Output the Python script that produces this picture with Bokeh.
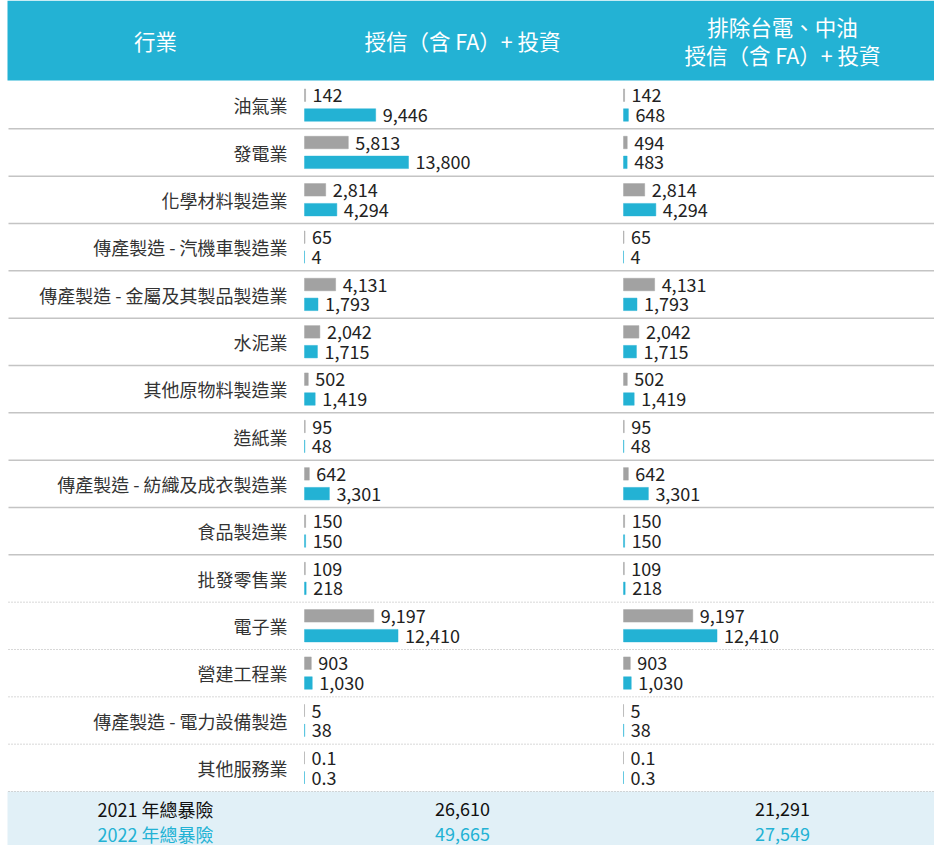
from bokeh.plotting import figure
from bokeh.models import Range1d, ColumnDataSource
from bokeh.core.properties import value
from bokeh.embed import file_html
from bokeh.resources import INLINE

# ---------------- data ----------------
categories = [
    "油氣業", "發電業", "化學材料製造業", "傳產製造 - 汽機車製造業",
    "傳產製造 - 金屬及其製品製造業", "水泥業", "其他原物料製造業", "造紙業",
    "傳產製造 - 紡織及成衣製造業", "食品製造業", "批發零售業", "電子業",
    "營建工程業", "傳產製造 - 電力設備製造", "其他服務業",
]
all_2021 = [142, 5813, 2814, 65, 4131, 2042, 502, 95, 642, 150, 109, 9197, 903, 5, 0.1]
all_2022 = [9446, 13800, 4294, 4, 1793, 1715, 1419, 48, 3301, 150, 218, 12410, 1030, 38, 0.3]
excl_2021 = [142, 494, 2814, 65, 4131, 2042, 502, 95, 642, 150, 109, 9197, 903, 5, 0.1]
excl_2022 = [648, 483, 4294, 4, 1793, 1715, 1419, 48, 3301, 150, 218, 12410, 1030, 38, 0.3]
total_labels = ["2021 年總暴險", "2022 年總暴險"]
totals_all = [26610, 49665]
totals_excl = [21291, 27549]
header_industry = "行業"
header_all = "授信（含 FA）+ 投資"
header_excl = ["排除台電、中油", "授信（含 FA）+ 投資"]

# ---------------- style / layout ----------------
W, H = 934, 845
FONT = value("Noto Sans CJK TC")
BLUE = "#23B2D4"
GRAY = "#A2A2A2"
FOOT_BG = "#E1F0F7"
TEXT = "#333333"
HEADER_BOTTOM = 80
ROW_TOP = 81
FOOT_TOP = 791
N = len(categories)
ROW_H = (FOOT_TOP - ROW_TOP) / N
COL_LABEL_RIGHT = 287
COL_IND_C = 155
COL2_C = 462
COL3_C = 782
COL2_X0 = 304
COL3_X0 = 623
PX_PER_UNIT = 104 / 13800.0
BAR_H = 12.5
OFF_2021 = 13.7
OFF_2022 = 33.5


def fmt(v):
    return f"{v:,.0f}" if v >= 1 else f"{v:g}"


p = figure(width=W, height=H, x_range=Range1d(0, W), y_range=Range1d(H, 0),
           output_backend="svg", toolbar_location=None, min_border=0,
           x_axis_location=None, y_axis_location=None)
p.grid.visible = False
p.outline_line_color = None
p.background_fill_color = "white"
p.border_fill_color = "white"

p.extra_x_ranges = {
    "c2": Range1d(-COL2_X0 / PX_PER_UNIT, (W - COL2_X0) / PX_PER_UNIT),
    "c3": Range1d(-COL3_X0 / PX_PER_UNIT, (W - COL3_X0) / PX_PER_UNIT),
}

# header band
p.quad(left=[7], right=[W], top=[0], bottom=[HEADER_BOTTOM], fill_color=BLUE, line_color=None)
# footer band
p.quad(left=[7], right=[W], top=[FOOT_TOP], bottom=[H], fill_color=FOOT_BG, line_color=None)

# header texts
p.text(x=[COL_IND_C, COL2_C], y=[40, 40], text=[header_industry, header_all],
       text_align="center", text_baseline="middle", text_font=FONT,
       text_font_size="21.5px", text_color="white")
p.text(x=[COL3_C, COL3_C], y=[26, 54], text=header_excl,
       text_align="center", text_baseline="middle", text_font=FONT,
       text_font_size="21.5px", text_color="white")

# separators
sep_solid = [ROW_TOP + (i + 1) * ROW_H for i in range(10)]
sep_dot = [ROW_TOP + (i + 1) * ROW_H for i in range(10, N)]
p.segment(x0=[8] * len(sep_solid), x1=[W] * len(sep_solid), y0=sep_solid, y1=sep_solid,
          line_color="#C4C4C4", line_width=1.5)
p.segment(x0=[8] * len(sep_dot), x1=[W] * len(sep_dot), y0=sep_dot, y1=sep_dot,
          line_color="#B0B0B0", line_width=1, line_dash="1 2")

# category labels
centers = [ROW_TOP + (i + 0.5) * ROW_H for i in range(N)]
p.text(x=[COL_LABEL_RIGHT] * N, y=centers, text=categories, text_align="right",
       text_baseline="middle", text_font=FONT, text_font_size="18px", text_color=TEXT)

# bars + labels
for rng, s21, s22 in (("c2", all_2021, all_2022), ("c3", excl_2021, excl_2022)):
    for vals, off, col in ((s21, OFF_2021, GRAY), (s22, OFF_2022, BLUE)):
        ys = [ROW_TOP + i * ROW_H + off for i in range(N)]
        src = ColumnDataSource(dict(y=ys, v=vals, lab=[fmt(v) for v in vals]))
        p.hbar(y="y", left=0, right="v", height=BAR_H, source=src, x_range_name=rng,
               fill_color=col, line_color=col, line_alpha=0.45, line_width=1)
        p.text(x="v", y="y", text="lab", source=src, x_range_name=rng, x_offset=7,
               text_align="left", text_baseline="middle", text_font=FONT,
               text_font_size="18px", text_color="#222222")

# footer totals
fy = [808, 833]
fcolors = ["#111111", BLUE]
p.text(x=[COL_IND_C] * 2, y=fy, text=total_labels, text_align="center",
       text_baseline="middle", text_font=FONT, text_font_size="18px", text_color=fcolors)
p.text(x=[COL2_C] * 2, y=fy, text=[fmt(v) for v in totals_all], text_align="center",
       text_baseline="middle", text_font=FONT, text_font_size="18px", text_color=fcolors)
p.text(x=[COL3_C] * 2, y=fy, text=[fmt(v) for v in totals_excl], text_align="center",
       text_baseline="middle", text_font=FONT, text_font_size="18px", text_color=fcolors)

open("out.html", "w").write(file_html(p, INLINE))
